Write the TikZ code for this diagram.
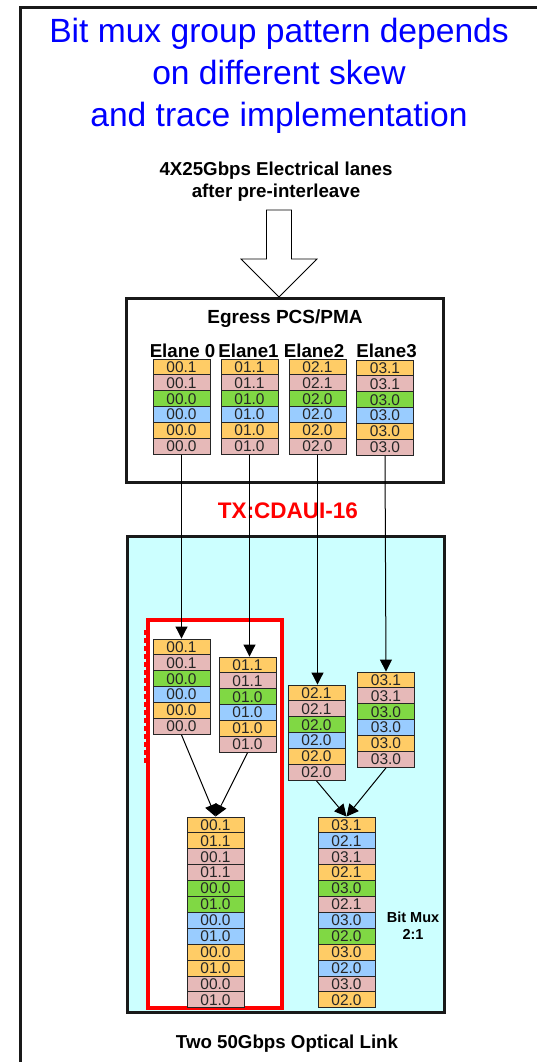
\documentclass[tikz,border=0pt]{standalone}
\usepackage{fontspec}
\setmainfont{Liberation Sans}
\usetikzlibrary{arrows.meta}
\definecolor{corange}{RGB}{255,204,102}
\definecolor{cpink}{RGB}{230,185,184}
\definecolor{cgreen}{RGB}{128,216,68}
\definecolor{cblue}{RGB}{153,204,255}
\definecolor{ccyan}{RGB}{204,255,255}
\definecolor{tblue}{RGB}{0,0,255}
\definecolor{tred}{RGB}{255,0,0}
\newcommand{\fsz}[1]{\fontsize{#1}{#1}\selectfont}
\tikzset{
  cell/.style={draw=black!85, line width=0.9pt, minimum width=57pt, minimum height=15.9pt, inner sep=0pt, font=\fsz{15.5}, text=black!85},
  lbl/.style={font=\fsz{18.7}\bfseries, anchor=base, inner sep=0pt},
  conn/.style={line width=1pt, -{Triangle[length=12pt,width=12pt]}},
  bigbox/.style={draw=black!90, line width=3pt, inner sep=0pt},
}
\newcommand{\mystack}[4]{%
  \foreach \c/\t [count=\i] in {#4} {
    \node[cell, fill=\c] (#1-\i) at (#2, {#3 + (\i-0.5)*15.9}) {\t};
  }
}
\begin{document}
\begin{tikzpicture}[x=1pt,y=-1pt]
\useasboundingbox (0,0) rectangle (536,1062);
% outer frame (cropped)
\draw[line width=3pt, black!90] (540,8) -- (20,8) -- (20,1066);
% title
\node[font=\fsz{33.6}, text=tblue, anchor=base, inner sep=0pt] (title1) at (279,43) {Bit mux group pattern depends};
\node[font=\fsz{33.6}, text=tblue, anchor=base, inner sep=0pt] (title2) at (279,85) {on different skew};
\node[font=\fsz{33.6}, text=tblue, anchor=base, inner sep=0pt] (title3) at (279,127) {and trace implementation};
\node[lbl] (sub1) at (276,175) {4X25Gbps Electrical lanes};
\node[lbl] (sub2) at (276,197) {after pre-interleave};
% hollow arrow
\draw[line width=0.8pt, fill=white] (266.5,210) -- (291.5,210) -- (291.5,259) -- (317,259) -- (279,297) -- (241,259) -- (266.5,259) -- cycle;
% Egress box
\node[bigbox, fill=white, minimum width=317pt, minimum height=184pt] (egress) at (284.5,390) {};
\node[lbl, font=\fsz{19}\bfseries] (egt) at (285,323) {Egress PCS/PMA};
\node[lbl] (el0) at (182.5,357) {Elane 0};
\node[lbl] (el1) at (248.5,357) {Elane1};
\node[lbl] (el2) at (314,357) {Elane2};
\node[lbl] (el3) at (386.5,357) {Elane3};
\mystack{e0}{181.5}{359}{corange/00.1,cpink/00.1,cgreen/00.0,cblue/00.0,corange/00.0,cpink/00.0}
\mystack{e1}{249.5}{359}{corange/01.1,cpink/01.1,cgreen/01.0,cblue/01.0,corange/01.0,cpink/01.0}
\mystack{e2}{317.5}{359}{corange/02.1,cpink/02.1,cgreen/02.0,cblue/02.0,corange/02.0,cpink/02.0}
\mystack{e3}{385}{360}{corange/03.1,cpink/03.1,cgreen/03.0,cblue/03.0,corange/03.0,cpink/03.0}
% TX label
\node[font=\fsz{22.5}\bfseries, text=tred, anchor=base, inner sep=0pt] (tx) at (288,518) {TX:CDAUI-16};
% cyan box
\node[bigbox, fill=ccyan, minimum width=317pt, minimum height=476pt] (optic) at (285.5,774) {};
% red group box
\node[draw=tred, line width=3.5pt, fill=white, minimum width=134pt, minimum height=388pt, inner sep=0pt] (grp) at (215,814) {};
\draw[tred, line width=2.6pt, dash pattern=on 5pt off 3pt] (145,630) -- (145,763);
% lower stacks
\mystack{a}{181.5}{639}{corange/00.1,cpink/00.1,cgreen/00.0,cblue/00.0,corange/00.0,cpink/00.0}
\mystack{b}{247.5}{657}{corange/01.1,cpink/01.1,cgreen/01.0,cblue/01.0,corange/01.0,cpink/01.0}
\mystack{c}{316.5}{685}{corange/02.1,cpink/02.1,cgreen/02.0,cblue/02.0,corange/02.0,cpink/02.0}
\mystack{d}{386}{672}{corange/03.1,cpink/03.1,cgreen/03.0,cblue/03.0,corange/03.0,cpink/03.0}
% merged stacks
\mystack{l}{215.5}{817}{corange/00.1,corange/01.1,cpink/00.1,cpink/01.1,cgreen/00.0,cgreen/01.0,cblue/00.0,cblue/01.0,corange/00.0,corange/01.0,cpink/00.0,cpink/01.0}
\mystack{r}{346.5}{817}{corange/03.1,cblue/02.1,cpink/03.1,corange/02.1,cgreen/03.0,cpink/02.1,cblue/03.0,cgreen/02.0,corange/03.0,cblue/02.0,cpink/03.0,corange/02.0}
% connectors
\draw[conn] (e0-6.south) -- (a-1.north);
\draw[conn] (e1-6.south) -- (e1-6.south |- b-1.north);
\draw[conn] (e2-6.south) -- (e2-6.south |- c-1.north);
\draw[conn] (e3-6.south) -- (d-1.north);
\draw[conn] (a-6.south) -- (l-1.north);
\draw[conn] (b-6.south) -- (l-1.north);
\draw[conn] (c-6.south) -- (r-1.north);
\draw[conn] (d-6.south) -- (r-1.north);
% labels
\node[font=\fsz{14.5}\bfseries, anchor=base, inner sep=0pt] (bm1) at (413,922) {Bit Mux};
\node[font=\fsz{14.5}\bfseries, anchor=base, inner sep=0pt] (bm2) at (413,939) {2:1};
\node[lbl] (two) at (287,1048) {Two 50Gbps Optical Link};
\end{tikzpicture}
\end{document}
